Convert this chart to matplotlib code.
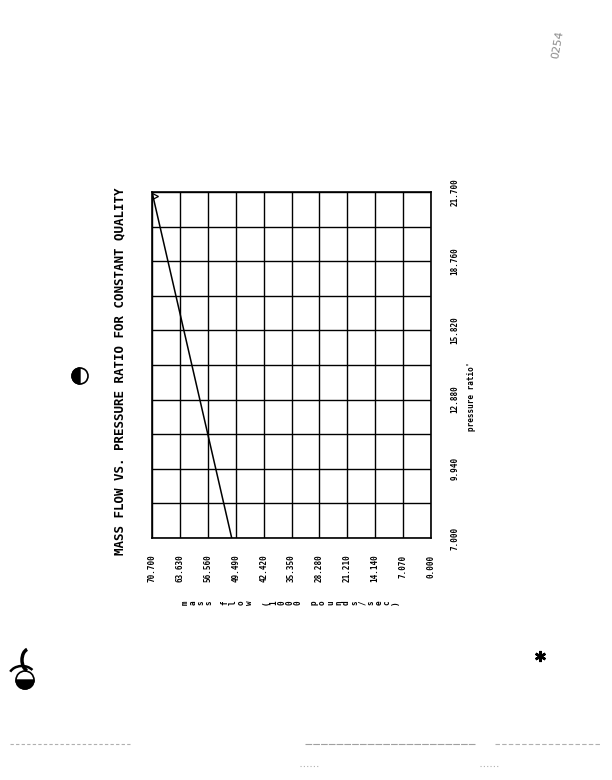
import matplotlib
matplotlib.use("Agg")
import matplotlib.pyplot as plt
from matplotlib.patches import Circle, Wedge, Arc

# data (chart is printed rotated 90 deg on the page)
pressure_ratio = [7.000, 21.700]
mass_flow = [50.5, 70.700]

mass_ticks = [70.700, 63.630, 56.560, 49.490, 42.420, 35.350,
              28.280, 21.210, 14.140, 7.070, 0.000]
ratio_ticks = [7.000, 9.940, 12.880, 15.820, 18.760, 21.700]
ratio_grid = [7.000, 8.470, 9.940, 11.410, 12.880, 14.350,
              15.820, 17.290, 18.760, 20.230, 21.700]

title = "MASS FLOW VS. PRESSURE RATIO FOR CONSTANT QUALITY"
xlabel = "pressure ratio'"
ylabel = "mass flow (1000 pounds/sec)"

mono = "DejaVu Sans Mono"
W, H = 612, 780

fig = plt.figure(figsize=(W / 100, H / 100), dpi=100)
fig.patch.set_facecolor("white")

# page overlay in pixel units for the page texts and scan marks
pg = fig.add_axes([0, 0, 1, 1], zorder=0)
pg.set_xlim(0, W)
pg.set_ylim(H, 0)
pg.axis("off")

# plot box on the page: x 152..431, y 192..538
x0, x1, y0, y1 = 152, 431, 192, 538
ax = fig.add_axes([x0 / W, 1 - y1 / H, (x1 - x0) / W, (y1 - y0) / H], zorder=1)
ax.set_facecolor("none")
ax.plot(mass_flow, pressure_ratio, color="black", lw=1.1)
ax.plot([mass_flow[-1] - 0.8], [pressure_ratio[-1] - 0.15], marker=">", ms=4,
        mfc="none", mec="black", mew=0.9)
ax.set_xlim(70.7, 0)
ax.set_ylim(7.0, 21.7)

ax.set_xticks(mass_ticks)
ax.set_xticklabels([f"{v:.3f}" for v in mass_ticks], rotation=90,
                   fontsize=5.5, family=mono, weight="bold")
ax.yaxis.tick_right()
ax.set_yticks(ratio_ticks)
ax.set_yticklabels([f"{v:.3f}" for v in ratio_ticks], rotation=90,
                   fontsize=5.5, family=mono, weight="bold", va="center")
ax.set_yticks(ratio_grid, minor=True)
ax.tick_params(axis="x", length=0, pad=12)
ax.tick_params(axis="y", which="both", length=0, pad=14)
ax.grid(True, which="both", color="black", lw=1.0)
for s in ax.spines.values():
    s.set_linewidth(1.2)

# title and axis labels
pg.text(120, 371, title, rotation=90, ha="center", va="center",
        fontsize=9, family=mono, weight="bold")
pg.text(472, 396, xlabel, rotation=90, ha="center", va="center",
        fontsize=5.5, family=mono, weight="bold")
step = (395 - 185) / (len(ylabel) - 1)
for i, ch in enumerate(ylabel):
    pg.text(185 + i * step, 603, ch, rotation=90, ha="center", va="center",
            fontsize=5.5, family=mono, weight="bold")

# scan marks: punch holes, stamp, specks, ruling at the foot of the page
pg.add_patch(Circle((80, 376), 8, fc="white", ec="black", lw=1.2))
pg.add_patch(Wedge((80, 376), 8, 90, 270, fc="black", ec="black"))
pg.add_patch(Circle((25, 680), 9, fc="white", ec="black", lw=1.2))
pg.add_patch(Wedge((25, 680), 9, 0, 180, fc="black", ec="black"))
pg.add_patch(Arc((29, 660), 14, 22, theta1=100, theta2=260, color="black", lw=2.5))
pg.add_patch(Arc((22, 676), 26, 20, theta1=200, theta2=330, color="black", lw=1.8))
pg.text(558, 45, "0254", rotation=80, ha="center", va="center",
        fontsize=8, color="#8a8a8a", family="DejaVu Sans")
pg.plot([540], [656], marker=(6, 2, 0), ms=8, color="black", mew=1.8)
pg.plot([10, 130], [744, 744], color="#b0b0b0", lw=0.8, ls=(0, (3, 2)))
pg.plot([305, 475], [744, 744], color="#a0a0a0", lw=0.8, ls=(0, (6, 1)))
pg.plot([495, 600], [744, 744], color="#b0b0b0", lw=0.8, ls=(0, (4, 2)))
pg.plot([300, 318], [766, 766], color="#b0b0b0", lw=0.8, ls=(0, (1, 2)))
pg.plot([480, 498], [766, 766], color="#b0b0b0", lw=0.8, ls=(0, (1, 2)))

fig.savefig("out.png", dpi=100)
